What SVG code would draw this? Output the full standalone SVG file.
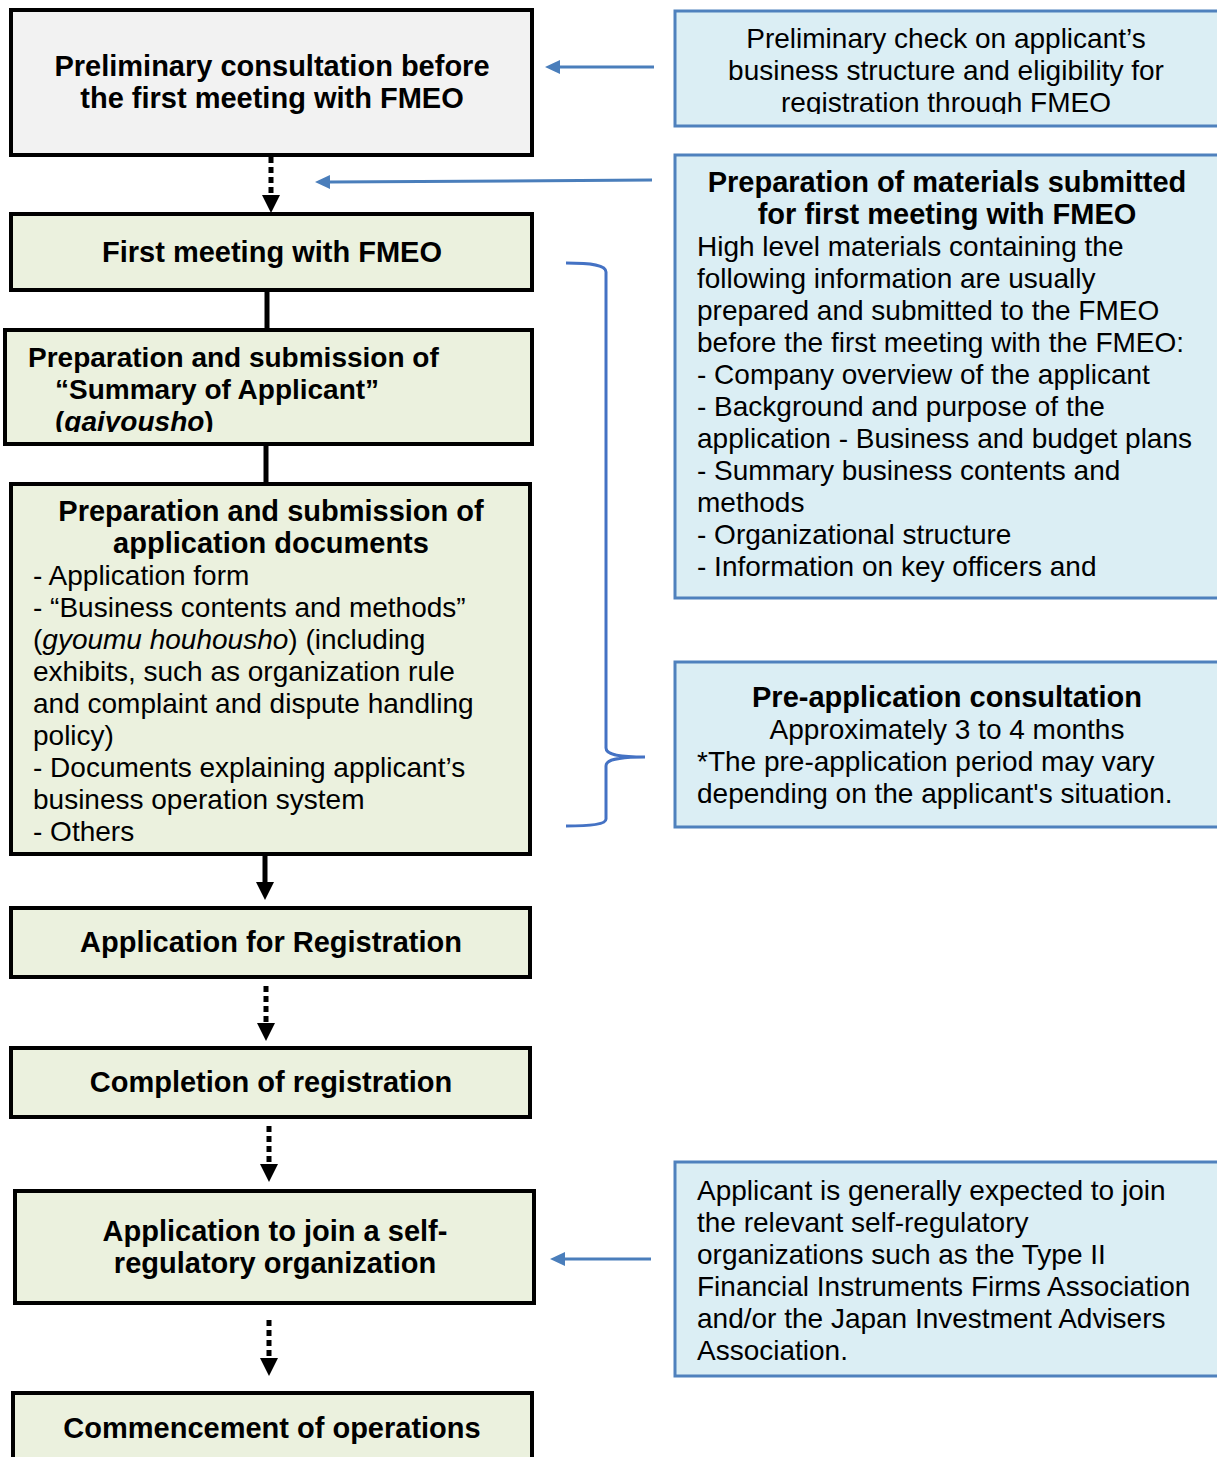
<svg xmlns="http://www.w3.org/2000/svg" width="1217" height="1457" viewBox="0 0 1217 1457">
<style>
.nb{stroke:#000;stroke-width:4}
.grey{fill:#f2f2f2}
.green{fill:#ebf1de}
.blue{fill:#dbeef4;stroke:#4f81bd;stroke-width:3}
text{font-family:"Liberation Sans",Arial,sans-serif;fill:#000}
.b{font-weight:bold;font-size:29px}
.b28{font-weight:bold;font-size:28px}
.r{font-size:28px}
.c{text-anchor:middle}
.dot{stroke:#000;stroke-width:5;stroke-dasharray:6 4;fill:none}
.sol{stroke:#000;stroke-width:5;fill:none}
.ba{stroke:#4a7ebb;stroke-width:3;fill:none}
.br{stroke:#4472c4;stroke-width:3;fill:none}
</style>
<defs>
<marker id="ah" markerUnits="userSpaceOnUse" markerWidth="18" markerHeight="18" refX="0" refY="9" orient="auto" overflow="visible">
<path d="M0,0 L18,9 L0,18 z" fill="#000"/>
</marker>
<marker id="bh" markerUnits="userSpaceOnUse" markerWidth="15" markerHeight="15" refX="0" refY="7" orient="auto" overflow="visible">
<path d="M0,0 L15,7 L0,14 z" fill="#4a7ebb"/>
</marker>
<clipPath id="clip3"><rect x="0" y="330" width="540" height="102"/></clipPath>
<clipPath id="clipR1"><rect x="675" y="0" width="545" height="114"/></clipPath>
</defs>

<g id="connectors">
<path class="dot" d="M271,157 L271,195" marker-end="url(#ah)"/>
<path class="sol" d="M267,290 L267,330"/>
<path class="sol" d="M266,444 L266,484"/>
<path class="sol" d="M265,854 L265,882" marker-end="url(#ah)"/>
<path class="dot" d="M266,986 L266,1023" marker-end="url(#ah)"/>
<path class="dot" d="M269,1126 L269,1164" marker-end="url(#ah)"/>
<path class="dot" d="M269,1320 L269,1358" marker-end="url(#ah)"/>
<path class="ba" d="M654,67 L560,67" marker-end="url(#bh)"/>
<path class="ba" d="M652,180 L330,182" marker-end="url(#bh)"/>
<path class="ba" d="M651,1259 L565,1259" marker-end="url(#bh)"/>
<path class="br" d="M566,263 C592,263 606,265 606,272 L606,748 C606,754 616,757 645,757 C616,757 606,760 606,766 L606,819 C606,824 592,826 566,826"/>
</g>

<g id="n1">
<rect class="nb grey" x="11" y="10" width="521" height="145"/>
<text class="b c" x="272" y="76">Preliminary consultation before</text>
<text class="b c" x="272" y="108">the first meeting with FMEO</text>
</g>
<g id="n2">
<rect class="nb green" x="11" y="214" width="521" height="76"/>
<text class="b c" x="272" y="262">First meeting with FMEO</text>
</g>
<g id="n3">
<rect class="nb green" x="5" y="330" width="527" height="114"/>
<g clip-path="url(#clip3)">
<text class="b28" x="28" y="367">Preparation and submission of</text>
<text class="b28" x="55" y="399">“Summary of Applicant”</text>
<text class="b28" x="55" y="431">(<tspan font-style="italic">gaiyousho</tspan>)</text>
</g>
</g>
<g id="n4">
<rect class="nb green" x="11" y="484" width="519" height="370"/>
<text class="b c" x="271" y="521">Preparation and submission of</text>
<text class="b c" x="271" y="553">application documents</text>
<text class="r" x="33" y="585">- Application form</text>
<text class="r" x="33" y="617">- “Business contents and methods”</text>
<text class="r" x="33" y="649">(<tspan font-style="italic">gyoumu houhousho</tspan>) (including</text>
<text class="r" x="33" y="681">exhibits, such as organization rule</text>
<text class="r" x="33" y="713">and complaint and dispute handling</text>
<text class="r" x="33" y="745">policy)</text>
<text class="r" x="33" y="777">- Documents explaining applicant’s</text>
<text class="r" x="33" y="809">business operation system</text>
<text class="r" x="33" y="841">- Others</text>
</g>
<g id="n5">
<rect class="nb green" x="11" y="908" width="519" height="69"/>
<text class="b c" x="271" y="952">Application for Registration</text>
</g>
<g id="n6">
<rect class="nb green" x="11" y="1048" width="519" height="69"/>
<text class="b c" x="271" y="1092">Completion of registration</text>
</g>
<g id="n7">
<rect class="nb green" x="15" y="1191" width="519" height="112"/>
<text class="b c" x="275" y="1241">Application to join a self-</text>
<text class="b c" x="275" y="1273">regulatory organization</text>
</g>
<g id="n8">
<rect class="nb green" x="13" y="1393" width="519" height="80"/>
<text class="b c" x="272" y="1438">Commencement of operations</text>
</g>

<g id="r1">
<rect class="blue" x="675" y="11" width="550" height="115"/>
<g clip-path="url(#clipR1)">
<text class="r c" x="946" y="48">Preliminary check on applicant’s</text>
<text class="r c" x="946" y="80">business structure and eligibility for</text>
<text class="r c" x="946" y="112">registration through FMEO</text>
</g>
</g>
<g id="r2">
<rect class="blue" x="675" y="155" width="550" height="443"/>
<text class="b c" x="947" y="192">Preparation of materials submitted</text>
<text class="b c" x="947" y="224">for first meeting with FMEO</text>
<text class="r" x="697" y="256">High level materials containing the</text>
<text class="r" x="697" y="288">following information are usually</text>
<text class="r" x="697" y="320">prepared and submitted to the FMEO</text>
<text class="r" x="697" y="352">before the first meeting with the FMEO:</text>
<text class="r" x="697" y="384">- Company overview of the applicant</text>
<text class="r" x="697" y="416">- Background and purpose of the</text>
<text class="r" x="697" y="448">application - Business and budget plans</text>
<text class="r" x="697" y="480">- Summary business contents and</text>
<text class="r" x="697" y="512">methods</text>
<text class="r" x="697" y="544">- Organizational structure</text>
<text class="r" x="697" y="576">- Information on key officers and</text>
</g>
<g id="r3">
<rect class="blue" x="675" y="662" width="550" height="165"/>
<text class="b c" x="947" y="707">Pre-application consultation</text>
<text class="r c" x="947" y="739">Approximately 3 to 4 months</text>
<text class="r" x="697" y="771">*The pre-application period may vary</text>
<text class="r" x="697" y="803">depending on the applicant's situation.</text>
</g>
<g id="r4">
<rect class="blue" x="675" y="1162" width="550" height="214"/>
<text class="r" x="697" y="1200">Applicant is generally expected to join</text>
<text class="r" x="697" y="1232">the relevant self-regulatory</text>
<text class="r" x="697" y="1264">organizations such as the Type II</text>
<text class="r" x="697" y="1296">Financial Instruments Firms Association</text>
<text class="r" x="697" y="1328">and/or the Japan Investment Advisers</text>
<text class="r" x="697" y="1360">Association.</text>
</g>
</svg>
